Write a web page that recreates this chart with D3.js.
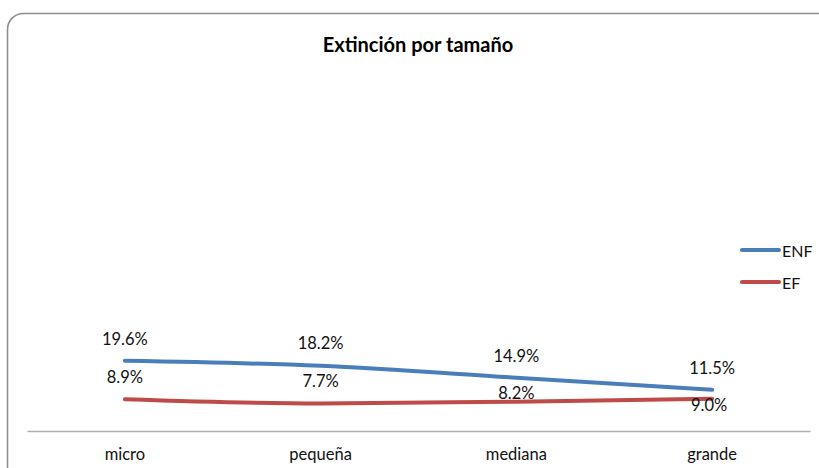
<!DOCTYPE html>
<html><head><meta charset="utf-8">
<script src="https://cdn.jsdelivr.net/npm/d3@7"></script>
<style>body{margin:0;background:#fff;}svg{display:block;}</style>
</head><body>
<script>
const categories = ["micro", "pequeña", "mediana", "grande"];
const seriesNames = ["ENF", "EF"];
const enfValues = [0.196, 0.182, 0.149, 0.115];
const efValues = [0.089, 0.077, 0.082, 0.090];
const seriesColors = ["#4a7ebb", "#be4b48"];
const yDomain = [0, 1];

const W = 819, H = 468;
const svg = d3.select("body").append("svg").attr("width", W).attr("height", H);
const font = "Lato, 'Open Sans', sans-serif";

svg.append("rect").attr("x", 7.5).attr("y", 13.5).attr("width", 830).attr("height", 480)
  .attr("rx", 16).attr("fill", "#fff").attr("stroke", "#8e8e8e").attr("stroke-width", 1.6);

svg.append("text").attr("x", 418).attr("y", 44).attr("text-anchor", "middle").attr("dominant-baseline", "central")
  .attr("font-family", font).attr("font-weight", "bold").attr("font-size", 20).attr("fill", "#000")
  .text("Extinción por tamaño");

const x = d3.scaleBand().domain(categories).range([27, 810]);
const y = d3.scaleLinear().domain(yDomain).range([431, 73]);

const xAxis = svg.append("g").attr("transform", "translate(0,431)").call(d3.axisBottom(x).tickSize(0).tickPadding(17));
xAxis.select(".domain").attr("stroke", "#b0b0b0").attr("stroke-width", 1.3);
xAxis.selectAll("text").attr("font-family", font).attr("font-size", 16.5).attr("fill", "#111");

const series = [
  {name: seriesNames[0], values: enfValues, color: seriesColors[0], dy: [-22, -23, -22, -22], dx: [0, 0, 0, 0]},
  {name: seriesNames[1], values: efValues, color: seriesColors[1], dy: [-22, -22, -9, 6], dx: [0, 0, 0, -3]}
];
const cx = c => x(c) + x.bandwidth() / 2;
const line = d3.line().x((d, i) => cx(categories[i])).y(d => y(d)).curve(d3.curveMonotoneX);

series.forEach(s => {
  svg.append("path").datum(s.values).attr("d", line).attr("fill", "none")
    .attr("stroke", s.color).attr("stroke-width", 4).attr("stroke-linecap", "round");
});
series.forEach(s => {
  svg.append("g").selectAll("text").data(s.values).join("text")
    .attr("x", (d, i) => cx(categories[i]) + s.dx[i])
    .attr("y", (d, i) => y(d) + s.dy[i])
    .attr("text-anchor", "middle").attr("dominant-baseline", "central")
    .attr("font-family", font).attr("font-size", 16.5).attr("fill", "#111")
    .text(d => d3.format(".1%")(d));
});

const leg = svg.append("g");
series.forEach((s, i) => {
  const ly = 250 + i * 32;
  leg.append("line").attr("x1", 742).attr("x2", 779).attr("y1", ly).attr("y2", ly)
    .attr("stroke", s.color).attr("stroke-width", 4).attr("stroke-linecap", "round");
  leg.append("text").attr("x", 782).attr("y", ly).attr("dominant-baseline", "central")
    .attr("font-family", font).attr("font-size", 16).attr("fill", "#111").text(s.name);
});
</script>
</body></html>
